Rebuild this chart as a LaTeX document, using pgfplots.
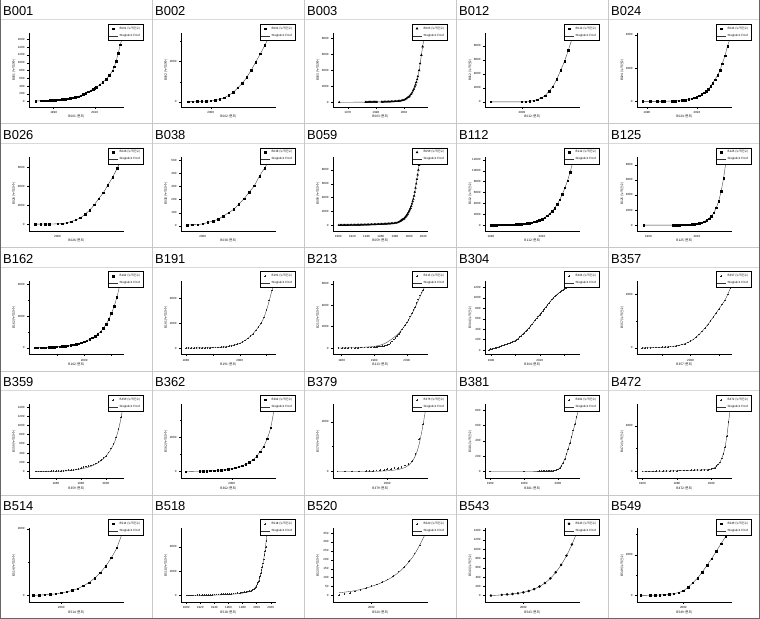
\documentclass[border=0pt]{standalone}
\usepackage{fontspec}
\setmainfont{Liberation Sans}
\newfontfamily\kr{Noto Sans CJK KR}
\usepackage{pgfplots}
\usepackage{pgfplotstable}
\pgfplotsset{compat=1.18}
\newcommand\titlefont{\fontsize{13}{13}\selectfont}
\newcommand\tinyf{\fontsize{3}{3.3}\selectfont}
\newcommand\labf{\kr\fontsize{3.2}{3.5}\selectfont}

\pgfplotsset{
  panel/.style={
    width=95bp, height=74bp, scale only axis,
    axis lines=left, axis line style={-, line width=0.45bp, black},
    tick align=outside, major tick length=1.6bp, minor tick length=0.9bp,
    every tick/.style={line width=0.3bp, black},
    ticklabel style={font=\tinyf}, xticklabel style={yshift=0.8bp}, yticklabel style={xshift=0.6bp},
    /pgf/number format/assume math mode=true,
    /pgf/number format/1000 sep={},
    scaled ticks=false,
    every axis x label/.style={at={(axis description cs:0.5,-0.135)}, anchor=center, font=\labf},
    every axis y label/.style={at={(axis description cs:-0.158,0.5)}, rotate=90, anchor=center, font=\labf},
    legend style={at={(axis description cs:0.83,1.12)}, anchor=north west,
      font=\tinyf, draw=black, line width=0.55bp, inner sep=0.5bp, outer sep=0pt,
      row sep=-0.6bp, fill=white,
      /tikz/every even column/.append style={column sep=0.5bp}},
    legend cell align=left,
  },
  msq/.style={only marks, mark=square*, mark size=0.75bp, black,
    legend image code/.code={\draw[mark repeat=2, mark phase=2, ##1] plot coordinates {(0bp,0bp) (4.5bp,0bp) (9bp,0bp)};}},
  mtri/.style={only marks, mark=triangle*, mark size=1bp, black,
    legend image code/.code={\draw[mark repeat=2, mark phase=2, ##1] plot coordinates {(0bp,0bp) (4.5bp,0bp) (9bp,0bp)};}},
  mplus/.style={only marks, mark=+, mark size=0.8bp, black!85, mark options={line width=0.25bp},
    legend image code/.code={\draw[mark repeat=2, mark phase=2, ##1] plot coordinates {(0bp,0bp) (4.5bp,0bp) (9bp,0bp)};}},
  mcirc/.style={only marks, mark=*, mark size=1.05bp, black,
    legend image code/.code={\draw[mark repeat=2, mark phase=2, ##1] plot coordinates {(0bp,0bp) (4.5bp,0bp) (9bp,0bp)};}},
  fit/.style={no marks, black!80, line width=0.35bp, smooth,
    legend image code/.code={\draw[##1] (0bp,0bp) -- (9bp,0bp);}},
}

% ---------------- data ----------------
\pgfplotstableread{
x y
1981.2 17
1983.6 20
1984.4 22
1985.2 24
1986 26
1986.8 28
1987.6 30
1988.4 33
1989.2 36
1990 39
1990.8 42
1991.6 46
1992.4 50
1993.2 54
1994 58
1994.8 63
1995.6 68
1996.4 74
1997.2 80
1998 87
1998.8 95
1999.6 104
2000.4 114
2001.2 122
2002 129
2003.2 158
2004.4 189
2005.6 219
2006.8 249
2008 283
2009.2 318
2010 344
2010.8 370
2012.4 430
2014 499
2015.6 576
2017.2 679
2018.8 800
2019.6 903
2020.4 1032
2021.5 1247
2022.5 1462
2023.6 1660
}\tA
\pgfplotstableread{
x y
1995 10
1996 20
1997 25
1998 30
1999 40
2000 50
2001 80
2002 130
2003 210
2004 330
2005 480
2006 700
2007 920
2008 1220
2009 1580
2010 1980
2011 2380
2012 2800
2013 3250
}\tB
\pgfplotstableread{
x y
1963.9 40
1982.7 60
1983.6 65
1984.5 68
1985.4 70
1986.3 72
1987.2 75
1988.1 78
1989 80
1989.9 82
1990.7 85
1994.1 90
1995 95
1996 100
1997 105
1998 110
1999 115
2000 122
2001 130
2002 140
2003 150
2004 162
2005 175
2006 190
2007 210
2008 240
2009.1 295
2010 337
2010.9 421
2011.8 505
2012.7 632
2013.4 716
2014.1 842
2015 1053
2015.7 1221
2016.4 1474
2017 1684
2017.6 1979
2018.2 2231
2018.7 2526
2019.3 2863
2019.8 3242
2020.7 4000
2021.4 4842
2022.3 5895
2023.2 6947
2024.1 7874
}\tC
\pgfplotstableread{
x y
1992 5
2000 10
2001 40
2002 90
2003 190
2004 335
2005 575
2006 910
2007 1530
2008 2200
2009 3210
2010 4500
2011 5800
2012 7400
2013 9100
}\tD
\pgfplotstableread{
x y
1988.3 0
1991.3 0
1994.2 0
1996.2 0
1997.1 0
2000.1 20
2001.4 20
2002.8 40
2004.1 60
2005.4 80
2006.7 120
2008 160
2008.9 220
2010 260
2011 340
2012 420
2012.9 520
2013.7 620
2014.6 740
2015.5 900
2016.3 1100
2017.2 1300
2018.2 1560
2019.2 1860
2020.1 2260
2021.2 2740
2022.2 3300
2023.4 3860
}\tE
\pgfplotstableread{
x y
1995.2 5
1996.3 8
1997.3 10
1998.2 12
2000 35
2001 70
2002 140
2003 281
2004 456
2005 667
2006 1053
2007 1474
2008 2036
2009 2703
2010 3335
2011 4142
2012 4949
2013 5897
2014 6880
}\tF
\pgfplotstableread{
x y
1997 5
1998 8
1999 10
2000 15
2001 26
2002 36
2003 51
2004 74
2005 100
2006 125
2007 166
2008 205
2009 256
2010 305
2011 379
2012 440
2013 505
}\tG
\pgfplotstableread{
x y
1901 10
1903 12
1905 14
1907 16
1909 18
1911 20
1913 22
1915 25
1917 28
1919 31
1921 34
1923 38
1925 42
1927 46
1929 50
1931 55
1933 60
1935 65
1937 70
1939 76
1941 82
1943 88
1945 95
1947 102
1949 110
1951 118
1953 126
1955 135
1957 144
1959 153
1961 163
1963 174
1965 185
1967 197
1969 210
1971 224
1973 238
1975 254
1977 270
1979 288
1981 320
1983 370
1985 440
1987 540
1988 620
1989 700
1990 780
1991 830
1992 860
1993 960
1994 1080
1995 1200
1996 1350
1997 1500
1998 1650
1999 1850
2000 2050
2001 2250
2002 2480
2003 2760
2004 3100
2005 3450
2006 3800
2007 4250
2008 4800
2009 5400
2010 6000
2011 6650
2012 7300
2013 8000
2014 8700
2015 9300
}\tH
\pgfplotstableread{
x y
1990 20
1991 25
1992 30
1993 35
1994 40
1995 50
1996 60
1997 75
1998 90
1999 110
2000 130
2001 160
2002 200
2003 250
2004 310
2005 390
2006 480
2007 600
2008 740
2009 910
2010 1120
2011 1380
2012 1700
2013 2100
2014 2580
2015 3150
2016 3850
2017 4700
2018 5700
2019 6850
2020 8150
2021 9700
2022 11400
}\tI
\pgfplotstableread{
x y
1988 0
2000 5
2001 10
2002 15
2003 20
2004 30
2005 40
2006 55
2007 75
2008 100
2009 140
2010 190
2011 260
2012 350
2013 480
2014 650
2015 880
2016 1200
2017 1650
2018 2300
2019 3200
2020 4500
2021 6200
2022 8400
}\tJ
\pgfplotstableread{
x y
1982 10
1983 15
1984 20
1985 25
1986 30
1987 40
1988 50
1989 60
1990 75
1991 90
1992 105
1993 125
1994 150
1995 175
1996 205
1997 240
1998 280
1999 330
2000 390
2001 460
2002 540
2003 630
2004 740
2005 870
2006 1030
2007 1230
2008 1480
2009 1790
2010 2170
2011 2630
2012 3190
2013 3900
}\tK
\pgfplotstableread{
x y
1980 0
1981 3
1982 6
1983 9
1984 12
1985 16
1986 20
1987 24
1988 29
1989 34
1990 40
1991 46
1992 53
1993 65
1994 85
1995 115
1996 150
1997 195
1998 250
1999 305
2000 365
2001 480
2002 610
2003 770
2004 950
2005 1150
2006 1420
2007 1700
2008 2000
2009 2450
2010 3050
2011 3800
2012 4600
2013 5300
}\tL
\pgfplotstableread{
x y
1958 0
1960 5
1962 10
1964 15
1966 20
1968 25
1970 30
1972 38
1974 46
1976 55
1978 65
1980 80
1981 95
1982 110
1983 130
1984 150
1985 175
1986 205
1987 240
1988 280
1989 340
1990 470
1991 620
1992 800
1993 970
1994 1150
1995 1330
1996 1520
1997 1720
1998 1930
1999 2150
2000 2380
2001 2650
2002 2950
2003 3250
2004 3550
2005 3850
2006 4200
2007 4550
2008 4900
2009 5200
2010 5450
2011 5750
2012 6050
}\tM
\pgfplotstableread{
x y
1958 0
1970 40
1980 150
1985 330
1988 550
1990 750
1993 1100
1996 1550
2000 2350
2003 3150
2006 4100
2009 5100
2012 6050
}\tMf
\pgfplotstableread{
x y
1989.2 6
1989.8 15
1990.3 23
1991 29
1991.6 35
1992.2 44
1992.8 52
1993.5 64
1994.1 76
1994.8 85
1995.4 93
1996 105
1996.6 117
1997.3 126
1997.9 134
1998.5 149
1999.2 163
1999.8 178
2000.4 192
2001.1 218
2001.7 245
2002.4 274
2003 303
2003.7 333
2004.3 362
2004.9 391
2005.5 420
2006.2 455
2006.8 490
2007.5 530
2008.1 571
2008.8 606
2009.4 641
2010 676
2010.6 711
2011.3 749
2011.9 787
2012.6 825
2013.2 863
2013.8 898
2014.4 933
2015.1 968
2015.7 1003
2016.4 1032
2017 1061
2017.7 1085
2018.3 1108
2018.9 1129
2019.5 1149
2020.2 1169
2020.8 1189
2021.5 1207
2022.1 1224
2022.7 1242
2023.3 1259
2024 1280
2024.8 1300
}\tN
\pgfplotstableread{
x y
1983 0
1984 3
1985 7
1986 10
1987 14
1988 18
1989 22
1990 26
1991 32
1992 40
1993 50
1994 62
1995 78
1996 98
1997 125
1998 160
1999 200
2000 250
2001 320
2002 405
2003 505
2004 615
2005 735
2006 870
2007 1010
2008 1160
2009 1310
2010 1465
2011 1620
2012 1780
2013 2000
2014 2250
}\tO
\pgfplotstableread{
x y
1944 0
1946 0
1948 0
1950 0
1952 0
1954 2
1956 3
1958 5
1960 7
1962 10
1964 13
1966 17
1968 21
1970 27
1972 33
1974 38
1976 43
1978 60
1980 80
1982 95
1984 105
1986 115
1988 128
1990 150
1992 175
1994 205
1996 245
1998 290
2000 340
2002 410
2004 500
2006 600
2008 740
2010 917
2012 1180
2013.8 1422
}\tP
\pgfplotstableread{
x y
1944 0
1960 3
1970 15
1976 35
1980 55
1984 80
1988 110
1992 160
1996 230
2000 330
2004 480
2007 640
2010 900
2012 1150
2013.8 1422
}\tPf
\pgfplotstableread{
x y
1987 0
1991 20
1992 25
1993 30
1994 40
1995 50
1996 65
1997 80
1998 100
1999 130
2000 165
2001 210
2002 270
2003 340
2004 430
2005 540
2006 680
2007 880
2008 1150
2009 1450
2010 1900
2011 2550
2012 3650
}\tQ
\pgfplotstableread{
x y
1986 0
1988 0
1990 2
1992 5
1994 12
1995 25
1996 35
1997 45
1998 55
1999 70
2000 90
2001 110
2002 130
2003 155
2004 190
2005 240
2006 300
2007 420
2008 700
2009 1300
2010 1900
2011 2600
}\tR
\pgfplotstableread{
x y
1986 0
1995 5
2000 30
2003 80
2005 160
2006 250
2007 400
2008 650
2009 1100
2010 1800
2011 2650
}\tRf
\pgfplotstableread{
x y
1960 0
1980 0
1988 2
1989 3
1990 4
1991 5
1992 6
1993 7
1994 8
1995 9
1996 10
1997 11
1998 12
1999 18
2000 28
2001 45
2002 75
2003 115
2004 165
2005 225
2006 295
2007 370
2008 450
2009 535
2010 620
2011 710
2012 800
}\tS
\pgfplotstableread{
x y
1960 5
1962 8
1964 10
1966 15
1968 20
1970 25
1972 30
1974 40
1976 50
1978 60
1980 70
1982 80
1984 90
1986 100
1988 110
1990 120
1992 130
1994 140
1996 150
1998 165
1999 180
2000 200
2001 260
2002 340
2003 460
2004 620
2005 800
2006 1150
2007 1550
2008 2150
2009 3100
2010 4300
2011 5500
}\tT
\pgfplotstableread{
x y
1995 0
1996 10
1997 20
1998 30
1999 50
2000 75
2001 110
2002 150
2003 210
2004 290
2005 390
2006 520
2007 680
2008 880
2009 1130
2010 1430
2011 1880
}\tU
\pgfplotstableread{
x y
1901 0
1904 5
1907 10
1910 15
1913 20
1916 25
1919 30
1922 35
1925 42
1928 50
1931 58
1934 66
1937 74
1940 82
1943 90
1946 98
1949 106
1952 115
1955 124
1958 133
1961 142
1964 152
1967 165
1970 180
1973 198
1976 220
1979 245
1982 270
1985 295
1988 326
1990 360
1992 400
1994 462
1996 550
1998 650
1999 720
2000 820
2001 960
2002 1100
2003 1224
2004 1420
2005 1605
2006 1850
2007 2094
2008 2350
2009 2638
2010 2950
2011 3346
2012 3650
2013 3998
2014 4500
2014.6 5086
}\tV
\pgfplotstableread{
x y
1901 0
1930 20
1950 60
1970 130
1980 200
1990 320
1995 480
2000 800
2003 1200
2006 1800
2009 2650
2012 3700
2014.6 5086
}\tVf
\pgfplotstableread{
x y
1994 2
1995 8
1996 12
1997 22
1998 30
1999 42
2000 52
2001 62
2002 75
2003 90
2004 110
2005 135
2006 160
2007 195
2008 235
2009 280
2010 345
}\tW
\pgfplotstableread{
x y
1994 15
1996 22
1998 33
2000 50
2002 73
2004 105
2006 155
2008 230
2010 345
}\tWf
\pgfplotstableread{
x y
1994 0
1996 15
1997 25
1998 35
1999 50
2000 70
2001 100
2002 140
2003 195
2004 270
2005 370
2006 500
2007 660
2008 860
2009 1100
2010 1380
}\tX
\pgfplotstableread{
x y
1991 0
1993 5
1994 10
1995 20
1996 35
1997 55
1998 90
1999 140
2000 230
2001 400
2002 620
2003 850
2004 1150
2005 1480
2006 1820
2007 2180
2008 2560
2009 2900
2010 3180
}\tY

% #1 col, #2 row, #3 name, #4 axis options, #5 data, #6 mark style, #7 fit
\newcommand{\panel}[7]{%
\begin{scope}
\clip ({152bp*#1},{619bp-123.8bp*(#2+1)}) rectangle ({152bp*(#1+1)},{619bp-123.8bp*#2});
\begin{axis}[panel, at={({152bp*#1+29bp},{619bp-123.8bp*#2-107bp})}, anchor=south west,
  xlabel={#3 (연도)}, ylabel={#3 (누적건수)}, #4]
\addplot[#6] table {#5};
\addlegendentry{\kr #3 (누적건수)}
\addplot[fit] table {#7};
\addlegendentry{Slogistic1 Fit of}
\end{axis}
\end{scope}
\node[anchor=base west, font=\titlefont, inner sep=0pt] at ({152bp*#1+3bp},{619bp-123.8bp*#2-15.5bp}) {#3};
}

\begin{document}
\begin{tikzpicture}
\useasboundingbox (0,0) rectangle (760bp,619bp);
\fill[white] (0,0) rectangle (760bp,619bp);
% grid
\foreach \i in {0,...,4}{\foreach \j in {0,...,4}{
  \draw[black!15, line width=0.8bp] ({152bp*\i},{619bp-123.8bp*\j-19.5bp}) -- ++(152bp,0);}}
\foreach \i in {1,2,3,4}{\draw[black!22, line width=0.9bp] ({152bp*\i},0) -- ({152bp*\i},619bp);}
\foreach \j in {1,2,3,4}{\draw[black!22, line width=0.9bp] (0,{619bp-123.8bp*\j}) -- (760bp,{619bp-123.8bp*\j});}
\draw[black!60, line width=1.4bp] (0.7bp,619bp) -- (0.7bp,0.7bp) -- (759.3bp,0.7bp) -- (759.3bp,619bp);

% row 0
\panel{0}{0}{B001}{xmin=1978, xmax=2024.3, ymin=-138, ymax=1763, ytick={0,200,...,1600}, xtick={1990,2010}, minor xtick={2000,2020}}{\tA}{msq}{\tA}
\panel{1}{0}{B002}{xmin=1993.4, xmax=2014.5, ymin=-250, ymax=3417, ytick={0,2000}, minor ytick={1000,3000}, xtick={2000}, minor xtick={2010}}{\tB}{msq}{\tB}
\panel{2}{0}{B003}{xmin=1959.5, xmax=2027, ymin=-547, ymax=8630, ytick={0,2000,...,8000}, xtick={1970,1990,2010}}{\tC}{mtri}{\tC}
\panel{3}{0}{B012}{xmin=1990.5, xmax=2015, ymin=-719, ymax=9820, ytick={0,2000,...,8000}, xtick={2000}, minor xtick={2010}}{\tD}{msq}{\tD}
\panel{4}{0}{B024}{xmin=1986.1, xmax=2024, ymin=-340, ymax=4100, ytick={0,2000,4000}, xtick={1990,2010}, minor xtick={2000,2020}}{\tE}{msq}{\tE}
% row 1
\panel{0}{1}{B026}{xmin=1993.8, xmax=2014.5, ymin=-702, ymax=7125, ytick={0,2000,4000,6000}, xtick={2000}, minor xtick={2010}}{\tF}{msq}{\tF}
\panel{1}{1}{B038}{xmin=1995.8, xmax=2014.2, ymin=-38, ymax=525, ytick={0,100,...,500}, xtick={2000}, minor xtick={2010}}{\tG}{msq}{\tG}
\panel{2}{1}{B059}{xmin=1892.7, xmax=2026.6, ymin=-809, ymax=9900, ytick={0,2000,...,8000}, xtick={1900,1920,...,2020}}{\tH}{mtri}{\tH}
\panel{3}{1}{B112}{xmin=1987.7, xmax=2024.9, ymin=-1040, ymax=12546, ytick={0,2000,...,12000}, xtick={1990,2010}, minor xtick={2000,2020}}{\tI}{msq}{\tI}
\panel{4}{1}{B125}{xmin=1985.3, xmax=2024.5, ymin=-751, ymax=9061, ytick={0,2000,...,8000}, xtick={1990,2010}, minor xtick={2000,2020}}{\tJ}{msq}{\tJ}
% row 2
\panel{0}{2}{B162}{xmin=1979.8, xmax=2014.6, ymin=-417, ymax=4229, ytick={0,2000,4000}, minor ytick={1000,3000}, xtick={2000}, minor xtick={1990,2010}}{\tK}{msq}{\tK}
\panel{1}{2}{B191}{xmin=1978.2, xmax=2013.5, ymin=-522, ymax=5400, ytick={0,2000,4000}, xtick={1980,2000}, minor xtick={1990,2010}}{\tL}{mplus}{\tL}
\panel{2}{2}{B213}{xmin=1954.7, xmax=2013, ymin=-616, ymax=6300, ytick={0,2000,4000,6000}, xtick={1960,1980,2000}}{\tM}{mplus}{\tMf}
\panel{3}{2}{B304}{xmin=1987.5, xmax=2026.6, ymin=-87, ymax=1330, ytick={0,200,...,1200}, xtick={1990,2010}, minor xtick={2000,2020}}{\tN}{mplus}{\tN}
\panel{4}{2}{B357}{xmin=1981.3, xmax=2014.5, ymin=-248, ymax=2517, ytick={0,2000}, minor ytick={1000}, xtick={2000}, minor xtick={1990,2010}}{\tO}{mplus}{\tO}
% row 3
\panel{0}{3}{B359}{xmin=1938.5, xmax=2014.5, ymin=-152, ymax=1458, ytick={0,200,...,1400}, xtick={1960,1980,2000}}{\tP}{mplus}{\tPf}
\panel{1}{3}{B362}{xmin=1985.7, xmax=2012.5, ymin=-400, ymax=3905, ytick={0,2000}, minor ytick={1000,3000}, xtick={2000}, minor xtick={1990,2010}}{\tQ}{msq}{\tQ}
\panel{2}{3}{B379}{xmin=1984.7, xmax=2011.5, ymin=-276, ymax=2698, ytick={0,2000}, minor ytick={1000}, xtick={2000}, minor xtick={1990,2010}}{\tR}{mplus}{\tRf}
\panel{3}{3}{B381}{xmin=1956.9, xmax=2013, ymin=-90, ymax=877, ytick={0,200,...,800}, xtick={1960,1980,2000}}{\tS}{mplus}{\tS}
\panel{4}{3}{B472}{xmin=1956.9, xmax=2012, ymin=-600, ymax=5863, ytick={0,4000}, minor ytick={2000}, xtick={1960,1980,2000}}{\tT}{mplus}{\tT}
% row 4
\panel{0}{4}{B514}{xmin=1994.2, xmax=2011.3, ymin=-203, ymax=2020, ytick={0,2000}, minor ytick={1000}, xtick={2000}, minor xtick={2010}}{\tU}{msq}{\tU}
\panel{1}{4}{B518}{xmin=1892.7, xmax=2027.5, ymin=-544, ymax=5522, ytick={0,2000,4000}, xtick={1900,1920,...,2020}}{\tV}{mplus}{\tVf}
\panel{2}{4}{B520}{xmin=1992.9, xmax=2010.5, ymin=-38, ymax=377, ytick={0,50,...,350}, xtick={2000}, minor xtick={2010}}{\tW}{mplus}{\tWf}
\panel{3}{4}{B543}{xmin=1992.9, xmax=2010.5, ymin=-142, ymax=1450, ytick={0,200,...,1400}, xtick={2000}, minor xtick={2010}}{\tX}{mcirc}{\tX}
\panel{4}{4}{B549}{xmin=1990.2, xmax=2010.3, ymin=-336, ymax=3312, ytick={0,2000}, minor ytick={1000,3000}, xtick={2000}, minor xtick={2010}}{\tY}{msq}{\tY}
\end{tikzpicture}
\end{document}
